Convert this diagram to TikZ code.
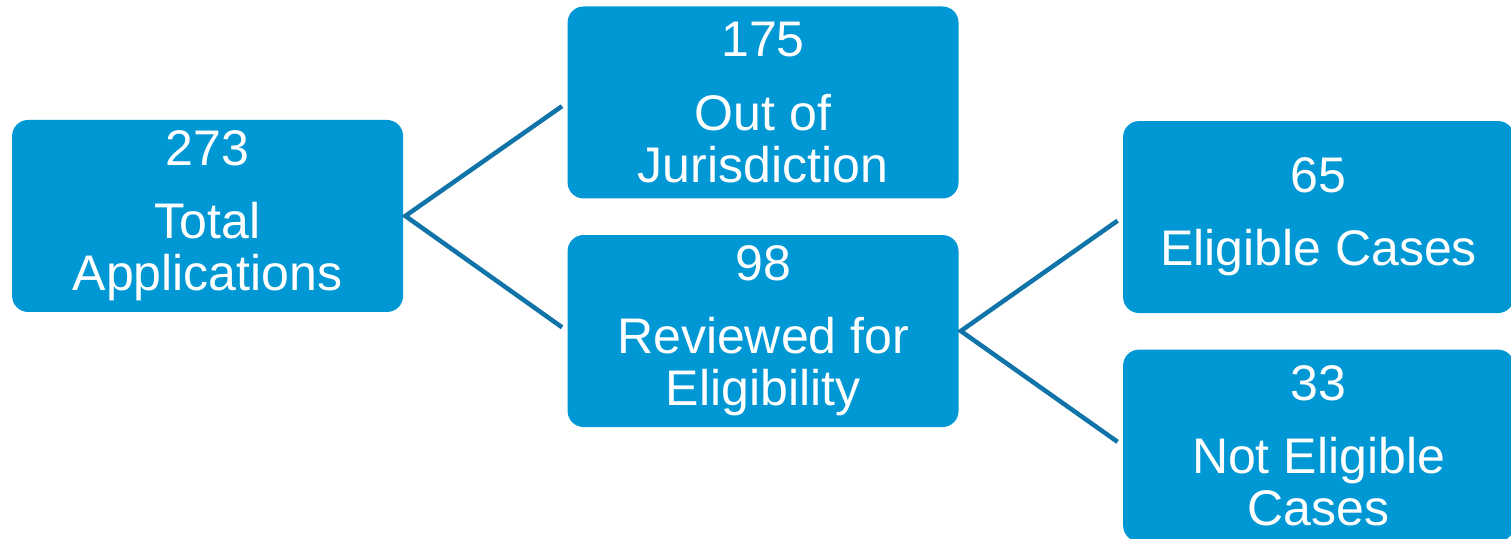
\documentclass[tikz,border=0pt]{standalone}
\usepackage{fontspec}
\setmainfont{Liberation Sans}
\usepackage{xcolor}
\usetikzlibrary{positioning}
\definecolor{boxblue}{RGB}{0,152,212}
\definecolor{lineblue}{RGB}{16,116,168}

\begin{document}
\begin{tikzpicture}[node distance=0.9cm, font=\fontsize{35.6pt}{37pt}\selectfont]
	\tikzstyle{box}=[rectangle, rounded corners=0.4cm, fill=boxblue, text=white, minimum width=9.775cm, minimum height=4.8cm, align=center, inner sep=0pt]
	\tikzstyle{link}=[draw=lineblue, line width=3.2pt, shorten <=0.16cm, shorten >=0.16cm]

	\useasboundingbox (-5.19,5.4) rectangle (32.59,-8.075);
	\node[box] (total) at (0,0) {273\\[15pt]Total\\Applications};
	\node[box, right=4.1cm of total, yshift=2.8375cm] (outjur) {175\\[15pt]Out of\\Jurisdiction};
	\node[box, below=of outjur] (reviewed) {98\\[15pt]Reviewed for\\Eligibility};
	\node[box, right=4.1cm of reviewed, yshift=2.85cm] (eligible) {65\\[15pt]Eligible Cases};
	\node[box, below=of eligible] (noteligible) {33\\[15pt]Not Eligible\\Cases};
	\coordinate[right=0.05cm of total] (split1);
	\coordinate[right=0.05cm of reviewed] (split2);

	\draw[link] (outjur.west) -- (split1) -- (reviewed.west);
	\draw[link] (eligible.west) -- (split2) -- (noteligible.west);
\end{tikzpicture}
\end{document}
